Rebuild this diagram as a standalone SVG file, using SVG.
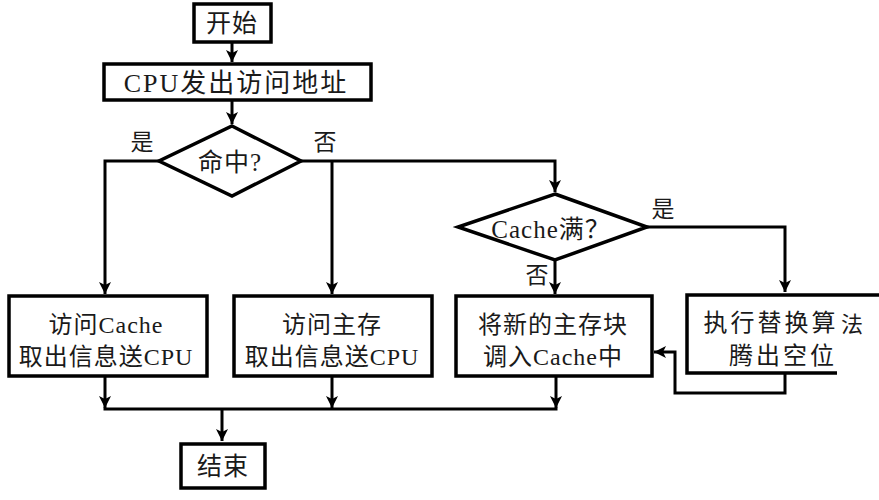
<svg xmlns="http://www.w3.org/2000/svg" width="879" height="500" viewBox="0 0 879 500">
  <defs>
    <style>
      .box { fill: #ffffff; stroke: #000000; stroke-width: 3.5; }
      .dia { fill: #ffffff; stroke: #000000; stroke-width: 3.5; stroke-linejoin: miter; }
      .wire { fill: none; stroke: #000000; stroke-width: 3; }
      .t { font-family: "Liberation Serif", "Noto Sans CJK SC", serif; font-size: 24px; fill: #1a1a1a; text-anchor: middle; dominant-baseline: central; letter-spacing: 1px; }
      .lbl { font-family: "Liberation Serif", "Noto Sans CJK SC", serif; font-size: 23px; fill: #1a1a1a; text-anchor: middle; dominant-baseline: central; }
    </style>
    <marker id="arrow" markerUnits="userSpaceOnUse" markerWidth="14" markerHeight="12" refX="12" refY="6" orient="auto">
      <path d="M0,0 L12,6 L0,12 L3,6 z" fill="#000000"/>
    </marker>
  </defs>

  <rect width="879" height="500" fill="#ffffff"/>

  <!-- connectors -->
  <g id="connectors">
    <path class="wire" d="M232,43 V62" marker-end="url(#arrow)"/>
    <path class="wire" d="M232,100 V124" marker-end="url(#arrow)"/>
    <path class="wire" d="M160,161 H105 V294" marker-end="url(#arrow)"/>
    <path class="wire" d="M301,161 H555 V192" marker-end="url(#arrow)"/>
    <path class="wire" d="M332,161 V294" marker-end="url(#arrow)"/>
    <path class="wire" d="M555,260 V294" marker-end="url(#arrow)"/>
    <path class="wire" d="M647,227 H785 V292" marker-end="url(#arrow)"/>
    <path class="wire" d="M785,374 V393 H675 V352 H654" marker-end="url(#arrow)"/>
    <path class="wire" d="M105,377 V408" marker-end="url(#arrow)"/>
    <path class="wire" d="M332,377 V408" marker-end="url(#arrow)"/>
    <path class="wire" d="M556,377 V408" marker-end="url(#arrow)"/>
    <path class="wire" d="M103.5,409 H557.5"/>
    <path class="wire" d="M222,409 V441" marker-end="url(#arrow)"/>
  </g>

  <!-- start -->
  <g id="start">
    <rect class="box" x="194" y="4" width="77" height="38"/>
    <text class="t" x="232" y="23" style="font-size:25px">开始</text>
  </g>

  <!-- CPU issues address -->
  <g id="cpu-request">
    <rect class="box" x="104" y="64" width="267" height="36"/>
    <text class="t" x="236" y="83" style="font-size:26px;letter-spacing:2px">CPU发出访问地址</text>
  </g>

  <!-- hit? -->
  <g id="hit">
    <polygon class="dia" points="232,126 301,161 232,196 159,161"/>
    <text class="t" x="230" y="162" style="font-size:25px">命中?</text>
    <text class="lbl" x="142" y="142">是</text>
    <text class="lbl" x="325" y="142">否</text>
  </g>

  <!-- read from cache -->
  <g id="read-cache">
    <rect class="box" x="9" y="296" width="198" height="80"/>
    <text class="t" x="106" y="325">访问Cache</text>
    <text class="t" x="106" y="357">取出信息送CPU</text>
  </g>

  <!-- read from main memory -->
  <g id="read-memory">
    <rect class="box" x="234" y="296" width="198" height="80"/>
    <text class="t" x="332" y="325">访问主存</text>
    <text class="t" x="332" y="357">取出信息送CPU</text>
  </g>

  <!-- cache full? -->
  <g id="cache-full">
    <polygon class="dia" points="555,194 647,227 555,260 458,227"/>
    <text class="t" x="551" y="229" style="font-size:25px">Cache满？</text>
    <text class="lbl" x="663" y="209">是</text>
    <text class="lbl" x="537" y="275">否</text>
  </g>

  <!-- load block into cache -->
  <g id="load-block">
    <rect class="box" x="456" y="296" width="196" height="80"/>
    <text class="t" x="553" y="325">将新的主存块</text>
    <text class="t" x="553" y="357">调入Cache中</text>
  </g>

  <!-- replacement -->
  <g id="replace">
    <rect class="box" x="687" y="295" width="220" height="78"/>
    <rect x="837" y="298" width="50" height="110" rx="4" fill="#ffffff"/>
    <text class="t" x="771" y="323" style="letter-spacing:3px">执行替换算</text>
    <text x="852" y="322" style="font-family:'Noto Sans CJK SC',sans-serif;font-size:22px;fill:#1a1a1a;text-anchor:middle;dominant-baseline:central">法</text>
    <text class="t" x="783" y="356" style="letter-spacing:3px">腾出空位</text>
  </g>

  <!-- end -->
  <g id="end">
    <rect class="box" x="181" y="444" width="84" height="44"/>
    <text class="t" x="223" y="466" style="font-size:25px">结束</text>
  </g>
</svg>
